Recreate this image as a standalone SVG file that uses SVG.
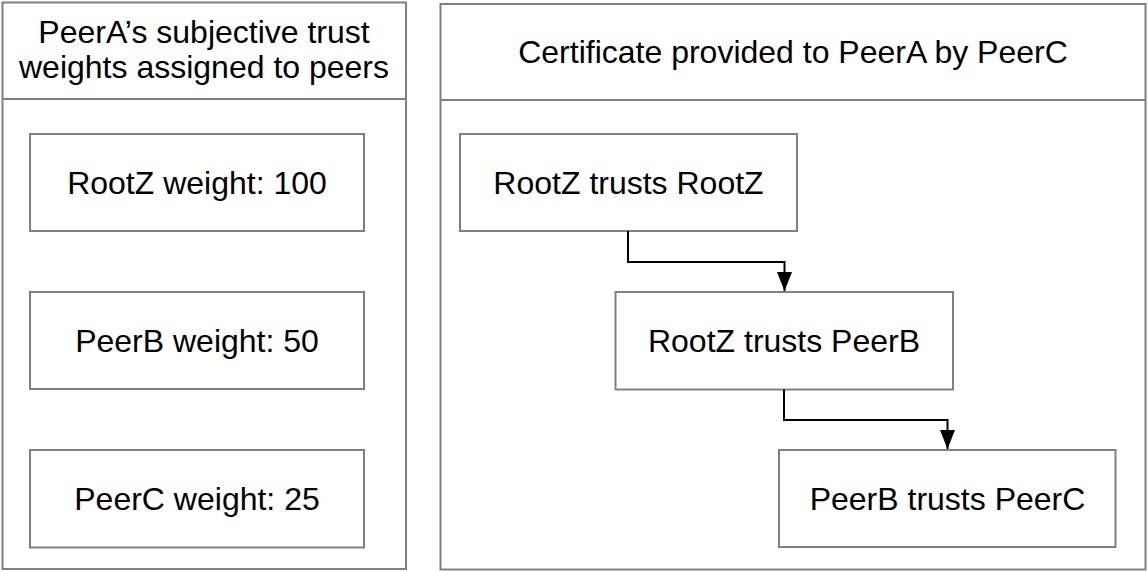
<svg xmlns="http://www.w3.org/2000/svg" width="1148" height="572" viewBox="0 0 1148 572">
<style>
.box{fill:#ffffff;stroke:#808080;stroke-width:2}
.t{font-family:"Liberation Sans",Arial,Helvetica,sans-serif;font-size:32px;fill:#000000;text-anchor:middle}
.edge{fill:none;stroke:#000000;stroke-width:2}
</style>
<defs>
<marker id="arr" markerUnits="userSpaceOnUse" markerWidth="19" markerHeight="15" refX="19" refY="7.5" orient="auto" viewBox="0 0 19 15">
<path d="M0,0 L19,7.5 L0,15 Z" fill="#000000"/>
</marker>
</defs>
<rect width="1148" height="572" fill="#ffffff"/>
<g id="container-left">
<rect class="box" x="2.5" y="2.5" width="403.5" height="566.5"/>
<line x1="2.5" y1="99" x2="406" y2="99" stroke="#808080" stroke-width="2"/>
<text class="t" x="204" y="43">PeerA’s subjective trust</text>
<text class="t" x="204" y="78">weights assigned to peers</text>
</g>
<g id="container-right">
<rect class="box" x="440.5" y="4" width="705" height="565.5"/>
<line x1="440.5" y1="100" x2="1145.5" y2="100" stroke="#808080" stroke-width="2"/>
<text class="t" x="793" y="63">Certificate provided to PeerA by PeerC</text>
</g>
<g id="node-rootz-weight">
<rect class="box" x="30" y="134" width="334" height="97"/>
<text class="t" x="197" y="194">RootZ weight: 100</text>
</g>
<g id="node-peerb-weight">
<rect class="box" x="30" y="292" width="334" height="97"/>
<text class="t" x="197" y="352">PeerB weight: 50</text>
</g>
<g id="node-peerc-weight">
<rect class="box" x="30" y="450" width="334" height="97.5"/>
<text class="t" x="197" y="510">PeerC weight: 25</text>
</g>
<g id="node-rootz-rootz">
<rect class="box" x="460" y="134" width="337" height="97"/>
<text class="t" x="628.5" y="194">RootZ trusts RootZ</text>
</g>
<g id="node-rootz-peerb">
<rect class="box" x="615.5" y="292" width="337.5" height="97.5"/>
<text class="t" x="784" y="352">RootZ trusts PeerB</text>
</g>
<g id="node-peerb-peerc">
<rect class="box" x="779" y="450" width="336.5" height="97"/>
<text class="t" x="947.5" y="510">PeerB trusts PeerC</text>
</g>
<g id="connectors">
<polyline class="edge" points="628,231 628,262 784.5,262 784.5,291" marker-end="url(#arr)"/>
<polyline class="edge" points="784,389.5 784,420 947.5,420 947.5,449" marker-end="url(#arr)"/>
</g>
</svg>
